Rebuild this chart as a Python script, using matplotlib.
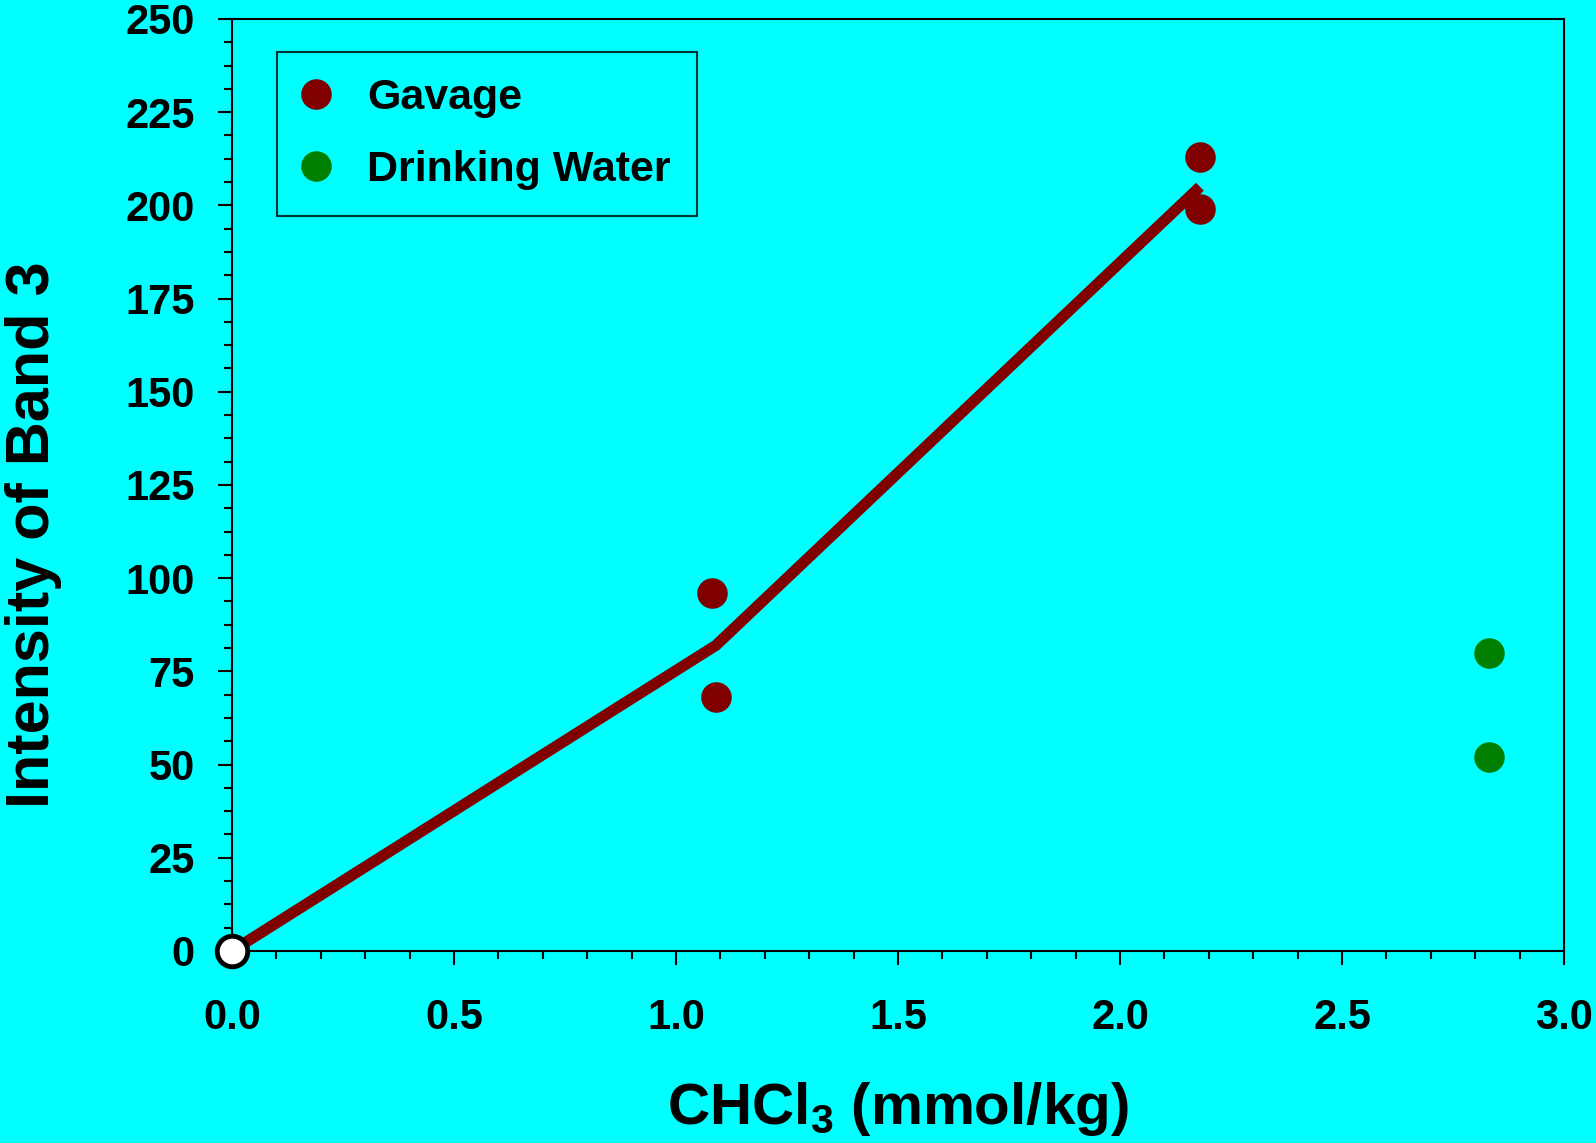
import matplotlib
matplotlib.use('Agg')
import matplotlib.pyplot as plt
import matplotlib.ticker as mticker

# data
gavage_x = [1.08, 1.09, 2.18, 2.18]
gavage_y = [96, 68, 213, 199]
water_x = [2.83, 2.83]
water_y = [80, 52]
fit_x = [0.0, 1.09, 2.18]
fit_y = [0, 82, 205]
control_x = [0.0]
control_y = [0]

plt.rcParams['font.family'] = ['Liberation Sans', 'DejaVu Sans']
plt.rcParams['font.weight'] = 'bold'
plt.rcParams['mathtext.fontset'] = 'custom'
plt.rcParams['mathtext.rm'] = 'Liberation Sans:bold'
plt.rcParams['mathtext.it'] = 'Liberation Sans:bold'
plt.rcParams['mathtext.bf'] = 'Liberation Sans:bold'

bg = '#00FFFF'
fig = plt.figure(figsize=(15.96, 11.43), dpi=100, facecolor=bg)
ax = fig.add_axes([0.1454, 0.168, 0.8346, 0.8154])
ax.set_facecolor(bg)

ax.plot(fit_x, fit_y, color='#800000', lw=8, solid_capstyle='butt', zorder=2)
ax.plot(gavage_x, gavage_y, 'o', color='#800000', ms=22, mew=0, label='Gavage', zorder=3)
ax.plot(water_x, water_y, 'o', color='#008000', ms=22, mew=0, label='Drinking Water', zorder=3)
ax.plot(control_x, control_y, 'o', mfc='white', mec='black', ms=22, mew=3.5, zorder=4, clip_on=False)

ax.set_xlim(0, 3.0)
ax.set_ylim(0, 250)
ax.xaxis.set_major_locator(mticker.MultipleLocator(0.5))
ax.xaxis.set_minor_locator(mticker.MultipleLocator(0.1))
ax.yaxis.set_major_locator(mticker.MultipleLocator(25))
ax.yaxis.set_minor_locator(mticker.MultipleLocator(6.25))
ax.xaxis.set_major_formatter(mticker.FormatStrFormatter('%.1f'))

for s in ax.spines.values():
    s.set_linewidth(1.5)
ax.tick_params(which='major', direction='out', length=10, width=1.5, labelsize=30)
ax.tick_params(which='minor', direction='out', length=6, width=1.5)
ax.tick_params(axis='x', which='major', pad=24)
ax.tick_params(axis='y', which='major', pad=17)

ax.set_xlabel(r'CHCl$_3$ (mmol/kg)', fontsize=42, fontweight='bold')
ax.set_ylabel('Intensity of Band 3', fontsize=44, fontweight='bold')
ax.xaxis.set_label_coords(0.5, -0.138)
ax.yaxis.set_label_coords(-0.128, 0.447)

leg = ax.legend(loc='upper left', bbox_to_anchor=(0.0338, 0.9646), borderaxespad=0,
                fontsize=31, frameon=True, fancybox=False, facecolor=bg, edgecolor='black',
                handlelength=0.6, handletextpad=0.9, labelspacing=0.75, borderpad=0.6)
leg.get_frame().set_linewidth(1.5)

fig.savefig('out.png', dpi=100, facecolor=bg)
